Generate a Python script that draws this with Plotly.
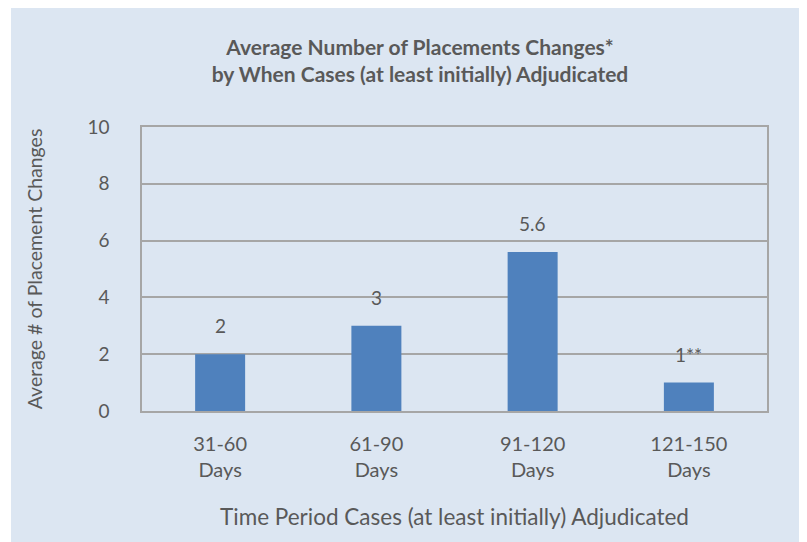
import plotly.graph_objects as go

categories = ["31-60<br>Days", "61-90<br>Days", "91-120<br>Days", "121-150<br>Days"]
values = [2, 3, 5.6, 1]
value_labels = ["2", "3", "5.6", "1**"]
y_ticks = [0, 2, 4, 6, 8, 10]

# page body has an 8px margin; lay out in figure coordinates
O = 8
W, H = 807 - O, 542 - O
L, R, T, B = 142 - O, 767 - O, 127 - O, 411 - O

FONT = "Lato"
TXT = "#595959"
BG = "#dce6f2"
GRID = "#a6a6a6"

fig = go.Figure()
fig.add_trace(go.Bar(
    x=categories, y=values,
    marker=dict(color="#4f81bd", line=dict(width=0)),
    hoverinfo="skip",
))

for c, v, t in zip(categories, values, value_labels):
    fig.add_annotation(x=c, y=v, text=t, showarrow=False, yanchor="bottom",
                       yshift=15, font=dict(family=FONT, size=19, color=TXT))

pw, ph = R - L, B - T
def px(x): return (x - L) / pw
def py(y): return (B - y) / ph

fig.add_shape(type="rect", xref="paper", yref="paper", layer="below",
              x0=px(11 - O), x1=px(802 - O), y0=py(H + 10), y1=py(-5),
              fillcolor=BG, line=dict(width=0))

fig.update_layout(
    width=W, height=H,
    margin=dict(l=L, r=W - R, t=T, b=H - B, pad=0),
    paper_bgcolor="white",
    plot_bgcolor=BG,
    bargap=0.68,
    showlegend=False,
    title=dict(
        text="<b>Average Number of Placements Changes*<br>by When Cases (at least initially) Adjudicated</b>",
        x=(420 - O) / W, xanchor="center", y=1 - 47 / H, yanchor="middle",
        font=dict(family=FONT, size=21, color=TXT),
    ),
    font=dict(family=FONT, color=TXT),
    xaxis=dict(
        showgrid=False, showline=True, linecolor=GRID, linewidth=1.5, mirror=True,
        tickfont=dict(family=FONT, size=20, color=TXT), ticks="outside", ticklen=14,
        tickcolor="rgba(0,0,0,0)",
        title=dict(text="Time Period Cases (at least initially) Adjudicated",
                   font=dict(family=FONT, size=22.5, color=TXT), standoff=29),
    ),
    yaxis=dict(
        range=[0, 10], tickvals=y_ticks, showgrid=True, gridcolor=GRID, gridwidth=1.5,
        showline=True, linecolor=GRID, linewidth=1.5, mirror=True, zeroline=False,
        tickfont=dict(family=FONT, size=19, color=TXT), ticks="outside", ticklen=27,
        tickcolor="rgba(0,0,0,0)",
        title=dict(text="Average # of Placement Changes",
                   font=dict(family=FONT, size=19.5, color=TXT), standoff=40),
    ),
)

fig.write_html("out.html")
